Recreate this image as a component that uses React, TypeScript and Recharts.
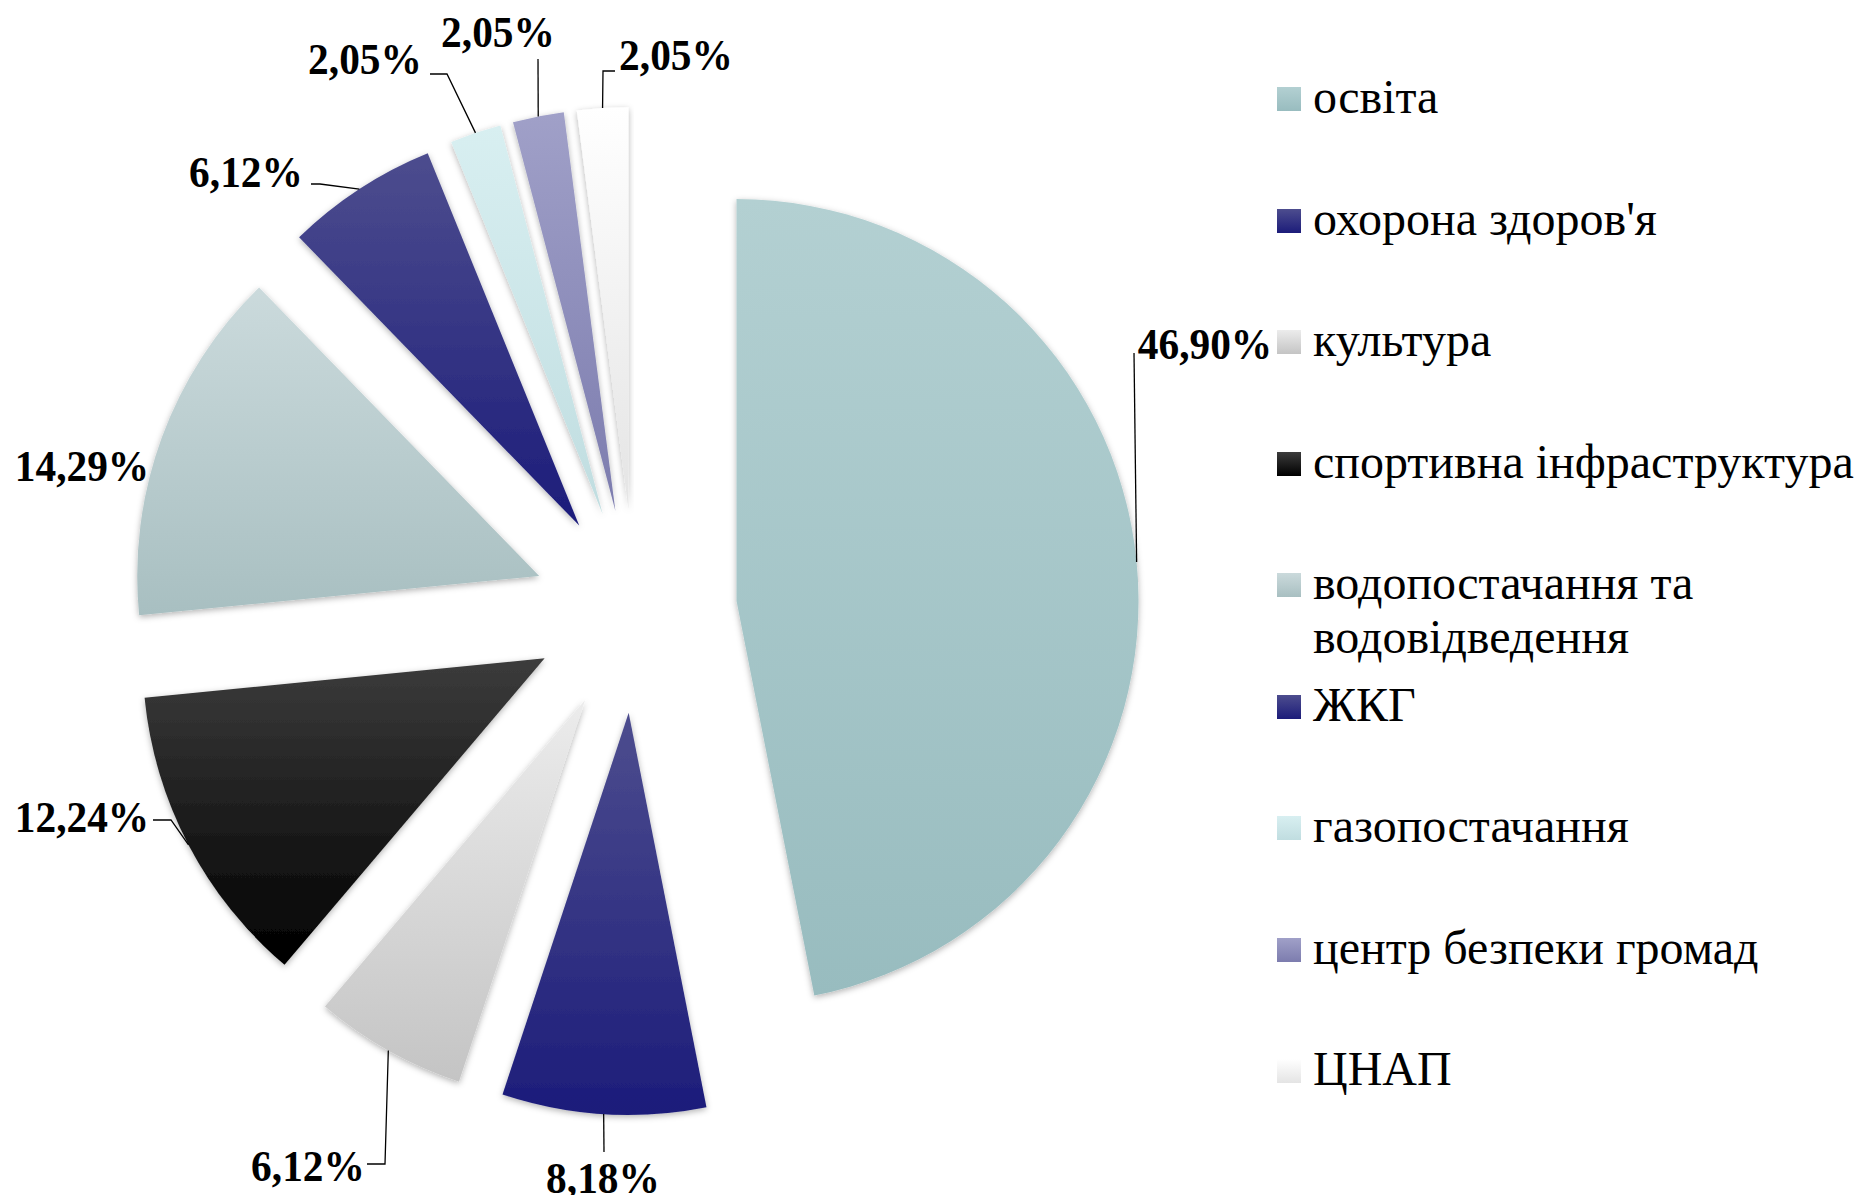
import React from 'react';
import { PieChart, Pie, Cell, Sector, Legend } from 'recharts';

const categories = [
  'освіта',
  "охорона здоров'я",
  'культура',
  'спортивна інфраструктура',
  'водопостачання та водовідведення',
  'ЖКГ',
  'газопостачання',
  'центр безпеки громад',
  'ЦНАП',
];
const shares = [46.9, 8.18, 6.12, 12.24, 14.29, 6.12, 2.05, 2.05, 2.05];
const shareLabels = ['46,90%', '8,18%', '6,12%', '12,24%', '14,29%', '6,12%', '2,05%', '2,05%', '2,05%'];

const gradTop = ['#b3d0d2', '#4d4d8e', '#ececec', '#3c3c3c', '#cbdadc', '#4d4d8e', '#d8eff1', '#a0a0c8', '#ffffff'];
const gradBottom = ['#98bcbf', '#1c1c7a', '#c4c4c4', '#000000', '#a8bfc1', '#1c1c7a', '#c0dde0', '#7c7cae', '#e4e4e4'];

// label placement, relative to the pie centre
const labelPos: [number, number][] = [
  [570, -267], [-32, 567], [-327, 555], [-553, 206], [-553, -145],
  [-389, -439], [-270, -552], [-137, -579], [41, -556],
];
const leaderPts: [number, number][][] = [
  [[499, -258]],
  [[-31, 541]],
  [[-250, 553], [-268, 553]],
  [[-464, 209], [-482, 209]],
  [],
  [[-315, -427], [-324, -427]],
  [[-188, -537], [-205, -537]],
  [[-97, -552]],
  [[-32, -540], [-20, -540]],
];

const data = categories.map((name, i) => ({ name, value: shares[i] }));

const RAD = Math.PI / 180;
const EXPLODE = 102;
const RADIUS = 402;
const CX = 630;
const CY = 606;

const ExplodedSector = (props: any) => {
  const { cx, cy, midAngle } = props;
  const ox = EXPLODE * Math.cos(-midAngle * RAD);
  const oy = EXPLODE * Math.sin(-midAngle * RAD);
  return (
    <g filter="url(#sliceShadow)">
      <Sector {...props} cx={cx + ox} cy={cy + oy} stroke="none" />
    </g>
  );
};

const renderLabel = (props: any) => {
  const { cx, cy, midAngle, outerRadius, index } = props;
  const r = EXPLODE + outerRadius;
  const sx = cx + r * Math.cos(-midAngle * RAD);
  const sy = cy + r * Math.sin(-midAngle * RAD);
  const [tx, ty] = labelPos[index];
  const pts = [[sx, sy], ...leaderPts[index].map(([x, y]) => [cx + x, cy + y])];
  const fs = 45;
  return (
    <g key={`lbl-${index}`}>
      {pts.length > 1 && (
        <polyline points={pts.map((p) => p.join(',')).join(' ')} fill="none" stroke="#000" strokeWidth={1.3} />
      )}
      <g transform={`translate(${cx + tx},${cy + ty + 0.34 * fs}) scale(0.92,1)`}>
        <text
          x={0}
          y={0}
          textAnchor="middle"
          fontFamily="'Liberation Serif', 'Times New Roman', serif"
          fontWeight="bold"
          fontSize={fs}
          fill="#000"
        >
          {shareLabels[index]}
        </text>
      </g>
    </g>
  );
};

const renderLegend = () => (
  <div style={{ position: 'relative', width: 586, height: 1100 }}>
    {categories.map((name, i) => (
      <div
        key={name}
        style={{
          position: 'absolute',
          left: 0,
          top: i * 121.5,
          display: 'flex',
          alignItems: 'flex-start',
          fontFamily: "'Liberation Serif', 'Times New Roman', serif",
          fontSize: 48,
          lineHeight: '54px',
          color: '#000',
          textAlign: 'left',
          whiteSpace: 'nowrap',
        }}
      >
        <span
          style={{
            display: 'inline-block',
            width: 24,
            height: 24,
            marginTop: 17,
            marginRight: 12,
            flex: 'none',
            background: `linear-gradient(to bottom, ${gradTop[i]}, ${gradBottom[i]})`,
          }}
        />
        <span>
          {name === 'водопостачання та водовідведення' ? (
            <>
              водопостачання та
              <br />
              водовідведення
            </>
          ) : (
            name
          )}
        </span>
      </div>
    ))}
  </div>
);

export default function App() {
  return (
    <div style={{ position: 'absolute', left: 0, top: 0, width: 1863, height: 1195, background: '#fff' }}>
      <PieChart width={1863} height={1195} style={{ overflow: 'visible' }}>
        <defs>
          {categories.map((_, i) => (
            <linearGradient key={i} id={`sliceGrad${i}`} x1="0" y1="0" x2="0" y2="1">
              <stop offset="0%" stopColor={gradTop[i]} />
              <stop offset="100%" stopColor={gradBottom[i]} />
            </linearGradient>
          ))}
          <filter id="sliceShadow" x="-10%" y="-10%" width="120%" height="120%">
            <feDropShadow dx="0" dy="2" stdDeviation="3" floodColor="#000" floodOpacity="0.3" />
          </filter>
        </defs>
        <Pie
          data={data}
          dataKey="value"
          nameKey="name"
          cx={CX}
          cy={CY}
          outerRadius={RADIUS}
          startAngle={90}
          endAngle={-270}
          stroke="none"
          shape={ExplodedSector}
          activeShape={ExplodedSector}
          inactiveShape={ExplodedSector}
          label={renderLabel}
          labelLine={false}
          isAnimationActive={false}
        >
          {data.map((_, i) => (
            <Cell key={i} fill={`url(#sliceGrad${i})`} />
          ))}
        </Pie>
        <Legend
          content={renderLegend}
          wrapperStyle={{ position: 'absolute', left: 1277, top: 70, width: 586 }}
        />
      </PieChart>
    </div>
  );
}
